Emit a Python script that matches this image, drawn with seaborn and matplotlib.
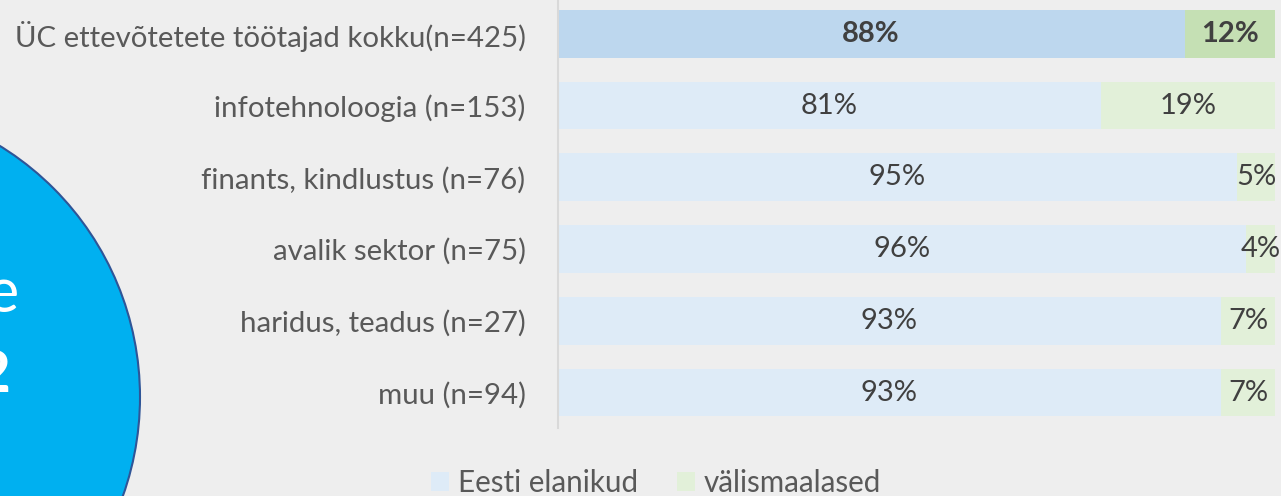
import numpy as np
import pandas as pd
import matplotlib
matplotlib.use('Agg')
import matplotlib.pyplot as plt
import seaborn as sns
from matplotlib.patches import Circle, Patch

# Data (bar shares as drawn, labels as printed)
categories = ['ÜC ettevõtetete töötajad kokku(n=425)', 'infotehnoloogia (n=153)',
              'finants, kindlustus (n=76)', 'avalik sektor (n=75)',
              'haridus, teadus (n=27)', 'muu (n=94)']
eesti = [87.4, 75.7, 94.7, 96.0, 92.5, 92.5]
valis = [12.6, 24.3, 5.3, 4.0, 7.5, 7.5]
eesti_labels = ['88%', '81%', '95%', '96%', '93%', '93%']
valis_labels = ['12%', '19%', '5%', '4%', '7%', '7%']
series_names = ['Eesti elanikud', 'välismaalased']

BG = '#EEEEEE'
BLUE_DARK, GREEN_DARK = '#BDD7EE', '#C5E0B4'
BLUE_LIGHT, GREEN_LIGHT = '#DEEBF7', '#E2F0D9'

sns.set_theme(style='white')
plt.rcParams['font.family'] = ['Lato', 'DejaVu Sans']

df = pd.DataFrame({'cat': categories, 'eesti': eesti, 'valis': valis})
df['total'] = df['eesti'] + df['valis']

W, H = 1281, 496
fig = plt.figure(figsize=(W / 100, H / 100), dpi=100, facecolor=BG)

# background layer with the cut-off circle
bg = fig.add_axes([0, 0, 1, 1], zorder=0)
bg.set_xlim(0, W)
bg.set_ylim(H, 0)
bg.axis('off')
bg.add_patch(Circle((-155, 397), 295, facecolor='#00B0F0', edgecolor='#2F5597', lw=1.5))
bg.text(19, 312, 'e', color='white', fontsize=44, ha='right', va='baseline')
bg.text(11, 392, '2', color='white', fontsize=42, fontweight='bold', ha='right', va='baseline')

# main bar chart
ax = fig.add_axes([557.5 / W, 1 - 428.4 / H, (1275 - 557.5) / W, 430.4 / H], zorder=1)
ax.set_facecolor('none')

green_pal = [GREEN_DARK] + [GREEN_LIGHT] * 5
blue_pal = [BLUE_DARK] + [BLUE_LIGHT] * 5
sns.barplot(data=df, x='total', y='cat', hue='cat', palette=green_pal, legend=False,
            width=0.665, saturation=1, ax=ax, order=categories, hue_order=categories,
            linewidth=0)
sns.barplot(data=df, x='eesti', y='cat', hue='cat', palette=blue_pal, legend=False,
            width=0.665, saturation=1, ax=ax, order=categories, hue_order=categories,
            linewidth=0)

for i in range(len(categories)):
    weight = 'bold' if i == 0 else 'normal'
    ax.text(eesti[i] / 2, i, eesti_labels[i], ha='center', va='center',
            fontsize=21, color='#404040', fontweight=weight)
    ax.text(eesti[i] + valis[i] / 2, i, valis_labels[i], ha='center', va='center',
            fontsize=21, color='#404040', fontweight=weight, clip_on=False)

ax.set_xlim(0, 100)
ax.set_ylim(5.5, -0.5)
ax.set_xlabel('')
ax.set_ylabel('')
ax.set_xticks([])
ax.tick_params(axis='y', length=0, pad=23, labelsize=21.2, labelcolor='#595959')
for s in ['top', 'right', 'bottom']:
    ax.spines[s].set_visible(False)
ax.spines['left'].set_color('#D9D9D9')
ax.spines['left'].set_linewidth(1.5)

handles = [Patch(facecolor=BLUE_LIGHT, edgecolor='none'), Patch(facecolor=GREEN_LIGHT, edgecolor='none')]
fig.legend(handles, series_names, loc='center', bbox_to_anchor=(656 / W, 1 - 483 / H),
           ncol=2, frameon=False, fontsize=21.3, labelcolor='#595959',
           handlelength=0.62, handleheight=0.62, handletextpad=0.3, columnspacing=1.3,
           borderpad=0.2)

fig.savefig('out.png', dpi=100, facecolor=BG)
